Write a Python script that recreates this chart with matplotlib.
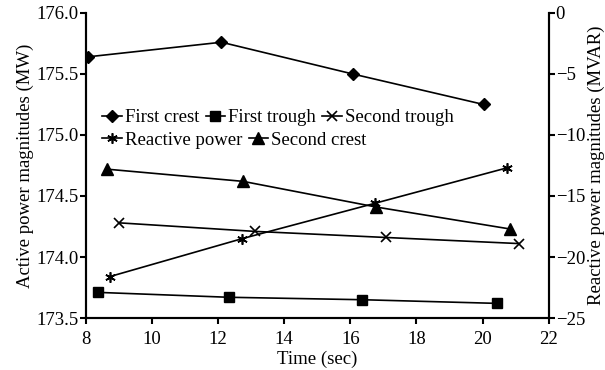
import matplotlib
matplotlib.use("Agg")
import matplotlib.pyplot as plt

plt.rcParams["font.family"] = ["Liberation Serif", "DejaVu Serif"]
plt.rcParams["font.size"] = 13.5

# ── data ──
crest1_t = [8.05, 12.1, 16.07, 20.03]
crest1_p = [175.64, 175.76, 175.50, 175.25]

trough1_t = [8.37, 12.32, 16.35, 20.43]
trough1_p = [173.71, 173.67, 173.65, 173.62]

trough2_t = [9.0, 13.1, 17.07, 21.1]
trough2_p = [174.28, 174.21, 174.16, 174.11]

crest2_t = [8.63, 12.75, 16.77, 20.82]
crest2_p = [174.72, 174.62, 174.41, 174.23]

reactive_t = [8.73, 12.72, 16.74, 20.73]
reactive_q = [-21.6, -18.5, -15.6, -12.7]

fig = plt.figure(figsize=(6.05, 3.7), dpi=100)
ax = fig.add_axes([0.142, 0.1405, 0.765, 0.8245])
ax2 = ax.twinx()

kw = dict(color="black", linewidth=1.2)
h_fc, = ax.plot(crest1_t, crest1_p, marker="D", markersize=6.5, label="First crest", **kw)
h_ft, = ax.plot(trough1_t, trough1_p, marker="s", markersize=7.5, label="First trough", **kw)
h_st, = ax.plot(trough2_t, trough2_p, marker="x", markersize=7, markeredgewidth=1.2,
                label="Second trough", **kw)
h_sc, = ax.plot(crest2_t, crest2_p, marker="^", markersize=8, label="Second crest", **kw)
h_rp, = ax2.plot(reactive_t, reactive_q, marker=(6, 2, 0), markersize=7.5,
                 markeredgewidth=1.2, label="Reactive power", **kw)

ax.set_xlim(8, 22)
ax.set_ylim(173.5, 176.0)
ax.set_xticks(range(8, 23, 2))
ax.set_yticks([173.5, 174.0, 174.5, 175.0, 175.5, 176.0])
ax.set_yticklabels(["173.5", "174.0", "174.5", "175.0", "175.5", "176.0"])
ax2.set_ylim(-25, 0)
ax2.set_yticks([-25, -20, -15, -10, -5, 0])

for a in (ax, ax2):
    a.spines["top"].set_visible(False)
    for s in a.spines.values():
        s.set_linewidth(1.5)
    a.tick_params(direction="out", length=4, width=1.5, pad=1)
ax.tick_params(axis="x", pad=5)

ax.set_xlabel("Time (sec)", labelpad=2)
ax.set_ylabel("Active power magnitudes (MW)", labelpad=2)
ax2.set_ylabel("Reactive power magnitudes (MVAR)", labelpad=2)

leg_kw = dict(frameon=False, handlelength=1.05, handletextpad=0.15,
              columnspacing=0.35, borderaxespad=0, borderpad=0)
leg1 = ax2.legend([h_fc, h_ft, h_st], ["First crest", "First trough", "Second trough"],
                  ncol=3, loc="upper left", bbox_to_anchor=(0.035, 0.685), **leg_kw)
ax2.add_artist(leg1)
ax2.legend([h_rp, h_sc], ["Reactive power", "Second crest"],
           ncol=2, loc="upper left", bbox_to_anchor=(0.035, 0.61), **leg_kw)

fig.savefig("out.png", dpi=100)
